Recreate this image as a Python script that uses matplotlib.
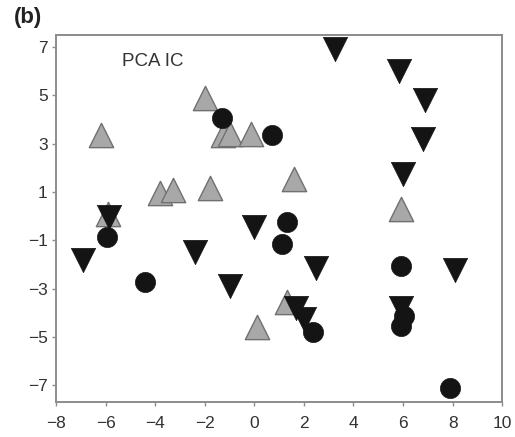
import matplotlib
matplotlib.use("Agg")
import matplotlib.pyplot as plt

plt.rcParams["font.family"] = ["Liberation Sans", "DejaVu Sans"]

# gray up-triangles
tri_up_x = [-6.2, -2.0, -1.25, -1.0, -0.15, -3.8, -3.3, -1.8, 1.6, -5.9, 5.9, 0.1, 1.3]
tri_up_y = [3.35, 4.9, 3.35, 3.4, 3.4, 0.95, 1.1, 1.15, 1.55, 0.1, 0.3, -4.6, -3.55]

# black down-triangles
tri_dn_x = [3.25, 5.85, 6.9, 6.8, 6.0, -5.85, -6.9, -2.4, -1.0, 0.0, 2.5, 1.7, 2.0, 5.9, 8.1]
tri_dn_y = [6.9, 6.0, 4.8, 3.2, 1.75, -0.05, -1.8, -1.5, -2.9, -0.45, -2.15, -3.8, -4.25, -3.8, -2.25]

# black circles
circ_x = [-1.3, 0.7, -5.95, -4.4, 1.3, 1.1, 2.35, 5.9, 6.05, 5.9, 7.9]
circ_y = [4.05, 3.35, -0.85, -2.75, -0.25, -1.15, -4.8, -2.05, -4.15, -4.55, -7.1]

xticks = [-8, -6, -4, -2, 0, 2, 4, 6, 8, 10]
yticks = [-7, -5, -3, -1, 1, 3, 5, 7]

fig = plt.figure(figsize=(5.15, 4.37), dpi=100)
ax = fig.add_axes([0.109, 0.080, 0.866, 0.840])

ax.scatter(tri_up_x, tri_up_y, marker="^", s=17.5**2, c="#a8a8a8",
           edgecolors="#707070", linewidths=1.0, zorder=2)
ax.scatter(tri_dn_x, tri_dn_y, marker="v", s=17.5**2, c="#141414",
           edgecolors="#141414", linewidths=0.5, zorder=3)
ax.scatter(circ_x, circ_y, marker="o", s=14.5**2, c="#141414",
           edgecolors="#141414", linewidths=0.5, zorder=3)

ax.set_xlim(-8, 10)
ax.set_ylim(-7.7, 7.5)
ax.set_xticks(xticks)
ax.set_yticks(yticks)
ax.tick_params(direction="out", length=3, width=1, color="#8c8c8c",
               labelsize=12.5, labelcolor="#333333", pad=3)
ax.tick_params(axis="x", pad=7)
for sp in ax.spines.values():
    sp.set_color("#8c8c8c")
    sp.set_linewidth(1.4)

ax.text(-4.1, 6.4, "PCA IC", fontsize=13.5, color="#333333",
        ha="center", va="center")
fig.text(0.027, 0.960, "(b)", fontsize=16, fontweight="bold",
         color="#222222", ha="left", va="center")

fig.savefig("out.png", dpi=100)
